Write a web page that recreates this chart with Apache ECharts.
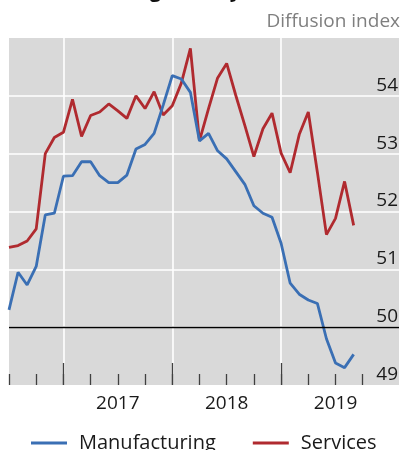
<!DOCTYPE html>
<html>
<head>
<meta charset="utf-8">
<script src="https://cdn.jsdelivr.net/npm/echarts@6/dist/echarts.min.js"></script>
<style>
  html, body { margin: 0; padding: 0; background: #fff; }
  #chart { width: 403px; height: 450px; }
</style>
</head>
<body>
<div id="chart"></div>
<script>
// monthly, Jul 2016 .. Feb 2020 (axis runs a bit past the data)
var months = []
for (var i = 0; i < 44; i++) {
  var y = 2016 + Math.floor((6 + i) / 12)
  var m = (6 + i) % 12 + 1
  months.push(y + '-' + (m < 10 ? '0' + m : m))
}

// Jul 2016 .. Sep 2019
var manufacturing = [
  50.30, 50.95, 50.73, 51.05, 51.94, 51.97,
  52.61, 52.62, 52.86, 52.86, 52.62, 52.50, 52.50, 52.63, 53.08, 53.16, 53.35, 53.84,
  54.35, 54.29, 54.06, 53.22, 53.35, 53.05, 52.91, 52.69, 52.47, 52.10, 51.97, 51.90,
  51.45, 50.76, 50.57, 50.47, 50.41, 49.80, 49.38, 49.30, 49.53
]
var services = [
  51.38, 51.41, 51.49, 51.70, 53.00, 53.28,
  53.37, 53.94, 53.30, 53.66, 53.72, 53.86, 53.74, 53.61, 54.00, 53.78, 54.07, 53.67,
  53.83, 54.22, 54.82, 53.22, 53.78, 54.31, 54.56, 54.01, 53.49, 52.95, 53.43, 53.70,
  53.01, 52.67, 53.33, 53.72, 52.68, 51.60, 51.88, 52.52, 51.76
]
var yearLabels = ['2017', '2018', '2019']
var seriesNames = ['Manufacturing', 'Services']

var FONT = '"Open Sans", "Noto Sans", sans-serif'
var lastTick = months.indexOf('2019-10')

function isYearStart(val) {
  return val.slice(5) === '01' && yearLabels.indexOf(val.slice(0, 4)) >= 0
}

var chart = echarts.init(document.getElementById('chart'))

chart.setOption({
  animation: false,
  title: [{
    text: 'Weakening activity',
    left: 50,
    top: -19,
    padding: 0,
    textStyle: { fontFamily: FONT, fontSize: 20, fontWeight: 'bold', color: '#111' }
  }, {
    text: 'Diffusion index',
    right: 3,
    top: 12,
    padding: 0,
    textStyle: { fontFamily: FONT, fontSize: 19, fontWeight: 'normal', color: '#7f7f7f' }
  }],
  color: ['#3a6fb4', '#b02a2f'],
  grid: {
    left: 9,
    right: 4,
    top: 38,
    bottom: 65,
    show: true,
    backgroundColor: '#d9d9d9',
    borderWidth: 0
  },
  legend: {
    data: seriesNames,
    left: 31,
    top: 433,
    padding: 0,
    icon: 'rect',
    itemWidth: 36,
    itemHeight: 3,
    itemGap: 37,
    textStyle: { fontFamily: FONT, fontSize: 20, color: '#1a1a1a', padding: [0, 0, 0, 7] }
  },
  xAxis: [{
    type: 'category',
    position: 'bottom',
    data: months,
    boundaryGap: false,
    axisLine: { show: false },
    axisTick: {
      inside: true,
      length: 11,
      lineStyle: { color: '#404040', width: 1.3 },
      interval: function (idx) { return idx % 3 === 0 && idx <= lastTick }
    },
    axisLabel: {
      margin: 9,
      interval: function (idx, val) {
        return val.slice(5) === '07' && yearLabels.indexOf(val.slice(0, 4)) >= 0
      },
      formatter: function (val) { return val.slice(0, 4) },
      fontFamily: FONT,
      fontSize: 19,
      color: '#1a1a1a'
    },
    splitLine: {
      show: true,
      interval: function (idx, val) { return isYearStart(val) },
      lineStyle: { color: '#fff', width: 1.6 }
    }
  }, {
    type: 'category',
    position: 'bottom',
    data: months,
    boundaryGap: false,
    axisLine: { show: false },
    axisTick: {
      inside: true,
      length: 22,
      lineStyle: { color: '#404040', width: 1.3 },
      interval: function (idx, val) { return isYearStart(val) }
    },
    axisLabel: { show: false },
    splitLine: { show: false }
  }],
  yAxis: {
    type: 'value',
    position: 'right',
    min: 49,
    max: 55,
    interval: 1,
    axisLine: { show: false },
    axisTick: { show: false },
    axisLabel: {
      inside: true,
      margin: 1,
      verticalAlign: 'bottom',
      padding: [0, 0, 1, 0],
      fontFamily: FONT,
      fontSize: 19,
      color: '#1a1a1a',
      formatter: function (v) { return v >= 55 ? '' : String(v) }
    },
    splitLine: {
      show: true,
      showMinLine: false,
      showMaxLine: false,
      lineStyle: { color: '#fff', width: 1.6 }
    }
  },
  series: [{
    name: seriesNames[0],
    type: 'line',
    data: manufacturing,
    symbol: 'none',
    lineStyle: { width: 2.8 },
    z: 3,
    markLine: {
      silent: true,
      symbol: 'none',
      label: { show: false },
      lineStyle: { color: '#000', width: 1.3, type: 'solid' },
      data: [{ yAxis: 50 }]
    }
  }, {
    name: seriesNames[1],
    type: 'line',
    data: services,
    symbol: 'none',
    lineStyle: { width: 2.8 },
    z: 2
  }]
})
</script>
</body>
</html>
